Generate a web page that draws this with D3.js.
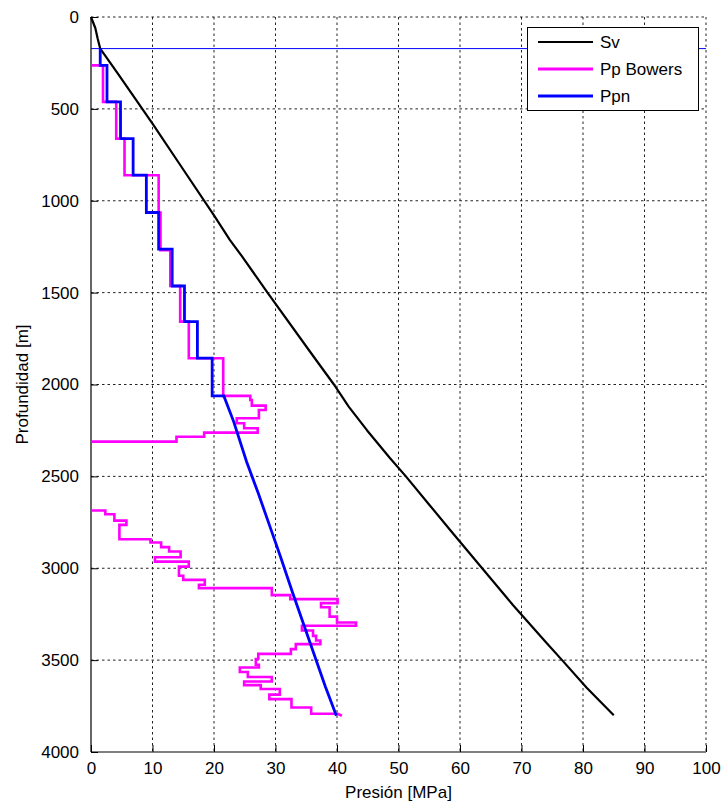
<!DOCTYPE html>
<html><head><meta charset="utf-8">
<script src="https://cdn.jsdelivr.net/npm/d3@7"></script>
<style>body{margin:0;background:#fff}svg{display:block}text{font-family:"Liberation Sans",Arial,sans-serif}</style>
</head><body><svg id="c" width="724" height="802"></svg>
<script>
// ---- data ----
const xTicks=[0,10,20,30,40,50,60,70,80,90,100];
const yTicks=[0,500,1000,1500,2000,2500,3000,3500,4000];
const seriesNames=["Sv","Pp Bowers","Ppn"];
const seriesColors=["#000000","#ff00ff","#0000ff"];
const waterDepth=172;

// Sv (overburden)
const svDepth=[0,60,120,172,300,450,580,800,1079,1214,1300,1500,1830,2000,2050,2120,2250,2400,2500,2650,2800,3000,3200,3400,3500,3650,3800];
const svValue=[0,0.7,1.1,1.5,4.2,7.3,10,14.4,20,22.6,24.5,28.7,35.8,39.5,40.5,41.9,44.9,48.6,51.2,54.9,58.6,63.6,68.6,73.9,76.6,80.6,85.0];

// Ppn stepped part: depths (interval bounds) and values (one per interval)
const ppnStepDepth=[172,263,462,662,861,1064,1263,1464,1658,1857,2062];
const ppnStepValue=[1.5,2.6,4.8,6.85,9.0,11.0,13.2,15.2,17.3,19.7];
// Ppn trend part
const ppnTrendDepth=[2062,2202,2420,2592,2764,2936,3135,3317,3480,3643,3803];
const ppnTrendValue=[21.6,23.2,25.3,27.2,29.0,30.8,32.8,34.7,36.4,38.1,39.9];

// Pp Bowers upper segment
const ppUpperDepth=[263,462,662,861,1064,1269,1464,1658,1857,2062,2084,2115,2139,2184,2211,2238,2262,2284,2311];
const ppUpperValue=[1.95,4.1,5.45,11.0,11.3,12.9,14.5,15.9,21.5,25.9,26.15,28.4,27.3,23.7,24.9,27.1,18.4,13.9];
// Pp Bowers lower segment
const ppLowerDepth=[2686,2706,2741,2764,2842,2860,2885,2909,2940,2964,2991,3041,3063,3090,3108,3146,3168,3190,3212,3263,3295,3313,3339,3368,3393,3413,3440,3466,3494,3525,3540,3565,3592,3616,3636,3657,3688,3712,3758,3792];
const ppLowerValue=[2.33,3.8,5.76,4.62,9.67,11.4,12.7,14.57,10.4,15.9,14.3,15.0,18.5,17.55,29.4,32.4,40.1,37.4,38.8,40.0,43.1,34.3,36.1,36.6,37.3,33.3,32.5,27.2,26.8,27.3,24.2,25.5,29.4,24.9,27.6,30.7,29.0,32.6,35.8];
const ppLowerEndValue=40.1;
const ppLowerTail=[40.8,3803];

// ---- layout ----
const svg=d3.select("#c");
const L=91,R=706,T=17,B=752;
const x=d3.scaleLinear().domain([0,100]).range([L,R]);
const y=d3.scaleLinear().domain([0,4000]).range([T,B]);
const FS=17;

function steps(startV,depths,values,endV){
  const pts=[[startV,depths[0]]];
  for(let i=0;i<values.length;i++){
    pts.push([values[i],depths[i]]);
    pts.push([values[i],depths[i+1]]);
  }
  pts.push([endV,depths[depths.length-1]]);
  return pts;
}
const line=d3.line().x(d=>x(d[0])).y(d=>y(d[1]));

// grid
const g=svg.append("g");
g.selectAll(".vg").data(xTicks.slice(1)).join("line")
 .attr("x1",d=>x(d)).attr("x2",d=>x(d)).attr("y1",T).attr("y2",B)
 .attr("stroke","#222").attr("stroke-width",1).attr("stroke-dasharray","2.5,3");
g.selectAll(".hg").data(yTicks.slice(0,-1)).join("line")
 .attr("x1",L).attr("x2",R).attr("y1",d=>y(d)).attr("y2",d=>y(d))
 .attr("stroke","#222").attr("stroke-width",1).attr("stroke-dasharray","2.5,3");

// axes
const xAxis=d3.axisBottom(x).tickValues(xTicks).tickFormat(d3.format("d")).tickSize(-7).tickPadding(10);
const yAxis=d3.axisLeft(y).tickValues(yTicks).tickFormat(d3.format("d")).tickSize(-7).tickPadding(12);
const gx=svg.append("g").attr("transform",`translate(0,${B})`).call(xAxis);
const gy=svg.append("g").attr("transform",`translate(${L},0)`).call(yAxis);
[gx,gy].forEach(a=>{
  a.select(".domain").attr("stroke","#000").attr("stroke-width",1.2);
  a.selectAll(".tick line").attr("stroke","#000");
  a.selectAll(".tick text").attr("font-size",FS).attr("fill","#000").attr("font-family","Liberation Sans, Arial, sans-serif");
});
gy.select(".domain").attr("d",`M0,${T}V${B}`);
gx.select(".domain").attr("d",`M${L},0H${R}`);

// labels
svg.append("text").attr("x",(L+R)/2).attr("y",798).attr("text-anchor","middle").attr("font-size",FS).text("Presión [MPa]");
svg.append("text").attr("transform",`translate(28,${(T+B)/2}) rotate(-90)`).attr("text-anchor","middle").attr("font-size",FS).text("Profundidad [m]");

// water depth line
svg.append("line").attr("x1",x(0)).attr("x2",x(100)).attr("y1",y(waterDepth)).attr("y2",y(waterDepth))
 .attr("stroke","#0000ff").attr("stroke-width",1);

// Sv
svg.append("path").datum(svDepth.map((d,i)=>[svValue[i],d])).attr("d",line)
 .attr("fill","none").attr("stroke",seriesColors[0]).attr("stroke-width",2.2).attr("stroke-linejoin","round");

// Pp Bowers
const up=steps(0,ppUpperDepth,ppUpperValue,0);
const lo=steps(0,ppLowerDepth,ppLowerValue,ppLowerEndValue);lo.push(ppLowerTail);
[up,lo].forEach(p=>svg.append("path").datum(p).attr("d",line)
 .attr("fill","none").attr("stroke",seriesColors[1]).attr("stroke-width",2.6).attr("stroke-linejoin","miter"));

// Ppn
const ppn=steps(ppnStepValue[0],ppnStepDepth,ppnStepValue,ppnTrendValue[0]);
ppnTrendDepth.slice(1).forEach((d,i)=>ppn.push([ppnTrendValue[i+1],d]));
svg.append("path").datum(ppn).attr("d",line)
 .attr("fill","none").attr("stroke",seriesColors[2]).attr("stroke-width",2.8).attr("stroke-linejoin","miter");

// legend
const lg=svg.append("g");
const LX=527,LY=27,LW=171,LH=83,rowY=[42,69,96];
lg.append("rect").attr("x",LX+0.5).attr("y",LY+0.5).attr("width",LW).attr("height",LH)
 .attr("fill","#fff").attr("stroke","#000").attr("stroke-width",1);
seriesNames.forEach((n,i)=>{
  lg.append("line").attr("x1",538).attr("x2",593).attr("y1",rowY[i]).attr("y2",rowY[i])
   .attr("stroke",seriesColors[i]).attr("stroke-width",i==0?2.2:2.8);
  lg.append("text").attr("x",600).attr("y",rowY[i]+6).attr("font-size",FS).text(n);
});
</script></body></html>
